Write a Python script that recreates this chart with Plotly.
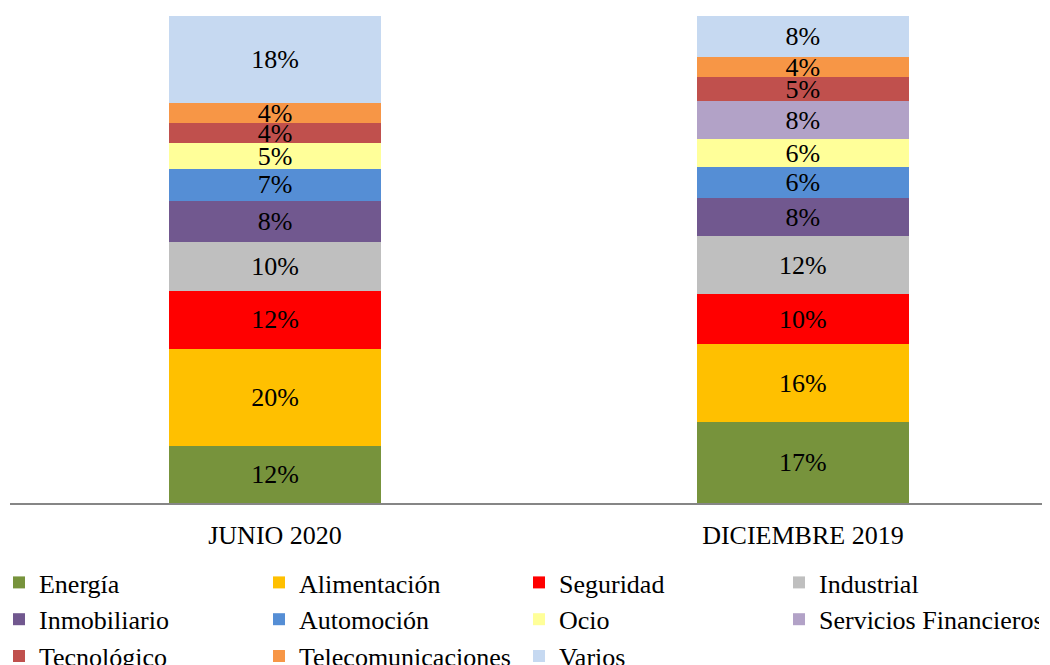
import plotly.graph_objects as go

categories = ["JUNIO 2020", "DICIEMBRE 2019"]
sectors = ["Energía", "Alimentación", "Seguridad", "Industrial", "Inmobiliario",
           "Automoción", "Ocio", "Servicios Financieros", "Tecnológico",
           "Telecomunicaciones", "Varios"]
junio_2020 = [11.7, 20.0, 11.9, 10.0, 8.4, 6.6, 5.3, 0.0, 4.1, 4.1, 17.8]
diciembre_2019 = [16.6, 16.0, 10.3, 11.9, 7.8, 6.4, 5.7, 7.8, 4.9, 4.1, 8.4]
colors = ["#77933C", "#FFC000", "#FF0000", "#BFBFBF", "#71588F", "#558ED5",
          "#FFFF99", "#B2A2C7", "#C0504D", "#F79646", "#C6D9F1"]

FONT = "Liberation Serif, Times New Roman, serif"

fig = go.Figure()
for i, name in enumerate(sectors):
    vals = [junio_2020[i], diciembre_2019[i]]
    txt = [f"{int(v + 0.5)}%" if v > 0 else "" for v in vals]
    fig.add_trace(go.Bar(
        x=categories, y=vals, name=name, text=txt,
        textposition="inside", insidetextanchor="middle", textangle=0,
        constraintext="none", cliponaxis=False,
        textfont=dict(family=FONT, size=26, color="black"),
        marker=dict(color=colors[i], line=dict(width=0)),
        width=0.4,
    ))

fig.update_layout(
    width=1050, height=665,
    barmode="stack",
    plot_bgcolor="white", paper_bgcolor="white",
    margin=dict(l=2, r=8, t=8, b=170, autoexpand=False),
    font=dict(family=FONT, size=26, color="black"),
    uniformtext=dict(minsize=26, mode="show"),
    xaxis=dict(range=[-0.502, 1.468], showline=True, linecolor="#868686",
               linewidth=1.5, ticks="", showgrid=False, ticklabelstandoff=8,
               tickfont=dict(family=FONT, size=26, color="black")),
    yaxis=dict(range=[0, 100], visible=False),
    legend=dict(orientation="h", x=-0.0106, xanchor="left",
                y=-0.115, yanchor="top",
                entrywidth=215, entrywidthmode="pixels", traceorder="normal",
                font=dict(family=FONT, size=26, color="black"),
                bgcolor="rgba(0,0,0,0)", tracegroupgap=0),
    showlegend=True,
)

fig.write_html("out.html")
